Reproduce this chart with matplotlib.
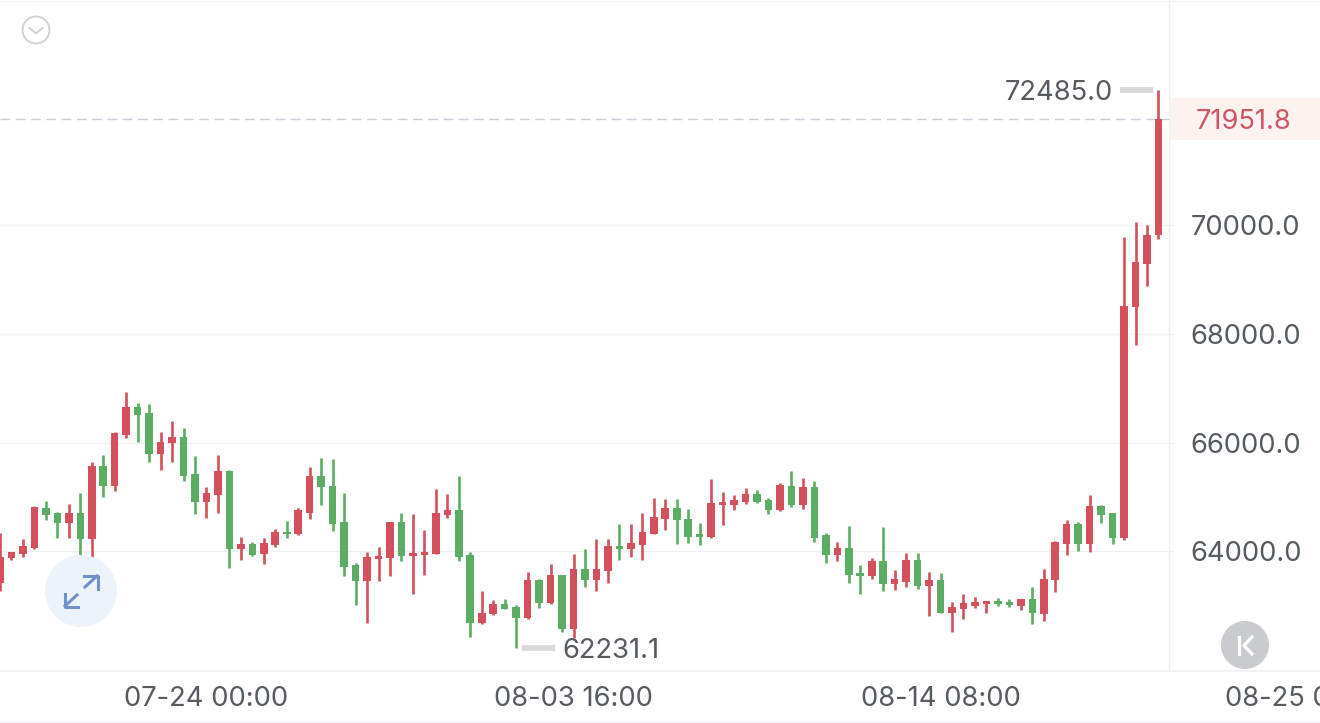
import matplotlib
matplotlib.use("Agg")
import matplotlib.pyplot as plt
from matplotlib.patches import Circle
import numpy as np

plt.rcParams['font.family'] = ['Inter', 'DejaVu Sans']

# 8h candles. red = up, green = down
opens = [63411, 63870, 63944, 64060, 64802, 64698, 64526, 64704, 64232, 65568,
         65201, 66139, 66660, 66549, 65789, 65985, 66096, 65415, 64913, 65035,
         65483, 64042, 64140, 63950, 64116, 64355, 64318, 64711, 65385, 65207,
         64533, 63748, 63454, 63865, 63883, 64539, 63920, 63926, 63950, 64668,
         64760, 63932, 62675, 62841, 63031, 62970, 62767, 63472, 63055, 63558,
         62571, 63668, 63472, 63638, 64097, 64048, 64122, 64324, 64594, 64790,
         64600, 64318, 64257, 64858, 64858, 64907, 65060, 64943, 64759, 65201,
         64845, 65189, 64294, 63926, 64061, 63595, 63546, 63821, 63398, 63441,
         63840, 63362, 63472, 62871, 62945, 62994, 63025, 63086, 63074, 63000,
         63116, 62847, 63472, 64140, 64508, 64140, 64827, 64704, 64244, 68486,
         69283, 69817]
highs = [64330, 63993, 64220, 64833, 64919, 64716, 64864, 65078, 65648, 65771,
         66200, 66923, 66721, 66703, 66188, 66390, 66273, 65752, 65188, 65765,
         65495, 64257, 64165, 64244, 64410, 64557, 64790, 65544, 65710, 65691,
         65066, 63791, 63987, 64085, 64545, 64698, 64686, 64392, 65140, 65054,
         65385, 63981, 63270, 63104, 63117, 63006, 63619, 63491, 63760, 63558,
         63950, 64042, 64220, 64220, 64496, 64496, 64698, 64986, 64962, 64956,
         64778, 64514, 65336, 65084, 65041, 65158, 65127, 64980, 65250, 65477,
         65348, 65293, 64330, 64165, 64465, 63748, 63870, 64441, 63656, 63975,
         63962, 63613, 63595, 63067, 63208, 63159, 63086, 63141, 63123, 63123,
         63349, 63674, 64183, 64575, 64532, 65035, 64851, 64710, 69774, 70050,
         70001, 72485.0]
lows = [63276, 63840, 63901, 64042, 64575, 64251, 64238, 63717, 63840, 65004,
        65115, 66083, 66016, 65648, 65495, 65648, 65299, 64686, 64618, 64710,
        63699, 63840, 63919, 63760, 64085, 64251, 64300, 64594, 64852, 64380,
        63546, 63013, 62675, 63460, 63546, 63828, 63209, 63564, 63944, 64619,
        63816, 62430, 62669, 62835, 62933, 62231.1, 62761, 62951, 63031, 62522,
        62400, 63350, 63276, 63411, 63840, 63901, 63840, 64318, 64392, 64134,
        64159, 64116, 64251, 64484, 64759, 64876, 64894, 64686, 64747, 64809,
        64778, 64177, 63791, 63828, 63417, 63209, 63497, 63276, 63288, 63349,
        63313, 62810, 62865, 62510, 62755, 62963, 62871, 62994, 62969, 62920,
        62663, 62718, 63251, 63932, 64005, 63993, 64514, 64134, 64214, 67794,
        68879, 69743]
closes = [63901, 63993, 64103, 64821, 64667, 64526, 64710, 64232, 65568, 65201,
          66169, 66647, 66506, 65789, 66016, 66096, 65385, 64913, 65078, 65483,
          64048, 64134, 63938, 64159, 64361, 64318, 64759, 65385, 65176, 64502,
          63705, 63454, 63901, 63914, 64539, 63914, 63963, 63987, 64711, 64760,
          63889, 62675, 62872, 63031, 62945, 62773, 63472, 63055, 63558, 62571,
          63668, 63472, 63668, 64097, 64048, 64159, 64355, 64625, 64790, 64569,
          64269, 64269, 64894, 64900, 64950, 65060, 64907, 64766, 65213, 64845,
          65189, 64251, 63932, 64061, 63570, 63552, 63821, 63398, 63484, 63840,
          63362, 63472, 62871, 62975, 63043, 63067, 63080, 63031, 63006, 63116,
          62859, 63497, 64171, 64508, 64140, 64833, 64673, 64251, 68517, 69320,
          69817, 71951.8]

price_ticks = [64000, 66000, 68000, 70000]
time_idx = [18, 50, 82, 114]
time_labels = ['07-24 00:00', '08-03 16:00', '08-14 08:00', '08-25 00:00']
last_price = closes[-1]

RED = '#D4505C'
GREEN = '#5BAD63'
TEXT = '#565B61'
GRID = '#EFF0F3'
FS = 19.7

W, H = 1320, 723
STEP = 11.47   # px between candles
PLOT_H = 671   # bottom of the candle area, px
PLOT_W = 1169  # right edge of the candle area, px

fig = plt.figure(figsize=(W / 100, H / 100), dpi=100, facecolor='white')
ax = fig.add_axes([0, 1 - PLOT_H / H, 1, PLOT_H / H])
ax.set_xlim(0, W / STEP)
ax.set_ylim(61799, 74138)

x = np.arange(len(opens))
o, h, l, c = map(np.array, (opens, highs, lows, closes))
colors = [RED if b >= a else GREEN for a, b in zip(o, c)]

ax.hlines(price_ticks, 0, 1173 / STEP, color=GRID, lw=0.9, zorder=1)
ax.axvline(PLOT_W / STEP, color=GRID, lw=1.0, zorder=1)
ax.axhspan(last_price - 380, last_price + 390, xmin=1170 / W, xmax=1, color='#FCF2F0', lw=0, zorder=1)
ax.plot([0, PLOT_W / STEP], [last_price, last_price], color='#C6CDD8', lw=1.0, dashes=(7, 4), zorder=2)

ax.vlines(x, l, h, color=colors, lw=1.9, zorder=3)
ax.bar(x, np.maximum(np.abs(c - o), 30), bottom=np.minimum(o, c), width=0.66, color=colors, lw=0, zorder=4)

# highest / lowest markers
hi = int(np.argmax(h))
lo = int(np.argmin(l))
ax.plot([hi - 3.37, hi - 0.5], [h[hi], h[hi]], color='#D9D9D9', lw=4.2, solid_capstyle='butt', zorder=3)
ax.text(hi - 4.0, h[hi], f'{h[hi]:.1f}', ha='right', va='center_baseline', fontsize=FS, color=TEXT)
ax.plot([lo + 0.5, lo + 3.4], [l[lo], l[lo]], color='#D9D9D9', lw=4.2, solid_capstyle='butt', zorder=3)
ax.text(lo + 4.0, l[lo], f'{l[lo]:.1f}', ha='left', va='center_baseline', fontsize=FS, color=TEXT)

ax.text(1244 / STEP, last_price, f'{last_price:.1f}', ha='center', va='center_baseline', fontsize=FS, color='#CF5563')

# axes
ax.set_xticks(time_idx)
ax.set_xticklabels(time_labels, fontsize=FS, color=TEXT)
ax.yaxis.tick_right()
ax.set_yticks(price_ticks)
ax.set_yticklabels([f'{p:.1f}' for p in price_ticks], fontsize=FS, color=TEXT)
ax.tick_params(axis='x', length=0, pad=11)
ax.tick_params(axis='y', length=0, pad=-93)
for name in ['left', 'right', 'top']:
    ax.spines[name].set_visible(False)
ax.spines['bottom'].set_color(GRID)
ax.spines['bottom'].set_linewidth(1.2)

# icons on top, in pixel coordinates
ov = fig.add_axes([0, 0, 1, 1], facecolor='none')
ov.set_xlim(0, W)
ov.set_ylim(H, 0)
ov.axis('off')
ov.plot([0, W], [0.6, 0.6], color='#F4F4F6', lw=1.0)
ov.plot([0, W], [722.3, 722.3], color='#F4F4F6', lw=1.2)

ov.add_patch(Circle((36, 30), 13.5, fc='none', ec='#CFCFD3', lw=1.3))
ov.plot([29.5, 36, 42.5], [28, 33.5, 28], color='#CFCFD3', lw=1.3)

ov.add_patch(Circle((81, 591), 36, fc='#EDF3FB', ec='none', zorder=5))
ov.plot([85, 97], [587, 576], color='#7091CB', lw=2.2, zorder=6)
ov.plot([84, 97.5, 97.5], [576, 576, 589], color='#7091CB', lw=2.2, zorder=6)
ov.plot([65, 77], [606, 595], color='#7091CB', lw=2.2, zorder=6)
ov.plot([65, 65, 78], [594, 607, 607], color='#7091CB', lw=2.2, zorder=6)

ov.add_patch(Circle((1245, 645), 24, fc='#C9CBCE', ec='none', zorder=5))
ov.plot([1238.5, 1238.5], [637, 654], color='white', lw=2.3, zorder=6)
ov.plot([1252, 1244, 1252], [637, 645.5, 654], color='white', lw=2.3, zorder=6)

fig.savefig('out.png', dpi=100)
